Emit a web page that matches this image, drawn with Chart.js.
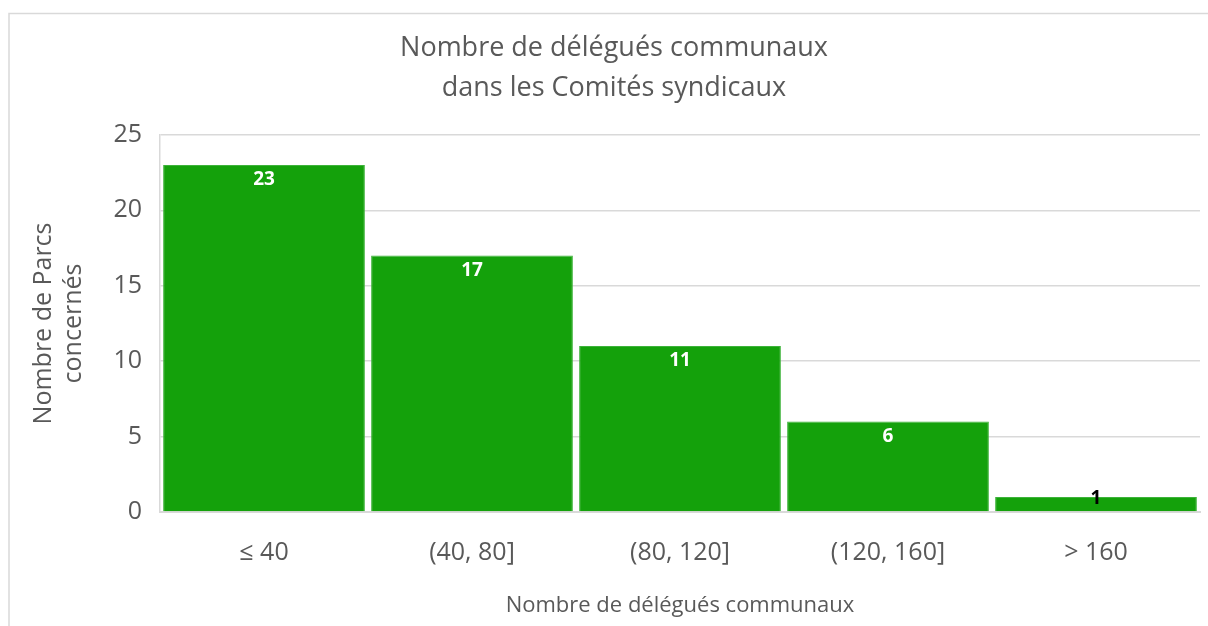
<!DOCTYPE html>
<html>
<head>
<meta charset="utf-8">
<script src="https://cdn.jsdelivr.net/npm/chart.js@4.4.1/dist/chart.umd.min.js"></script>
<style>
html,body{margin:0;padding:0;background:#fff;}
#wrap{position:relative;width:1208px;height:626px;}
</style>
</head>
<body>
<div id="wrap"><canvas id="c" width="1208" height="626"></canvas></div>
<script>
const categories = ['≤ 40', '(40, 80]', '(80, 120]', '(120, 160]', '> 160'];
const parcs = [23, 17, 11, 6, 1];
const yTicks = [0, 5, 10, 15, 20, 25];
const titleLines = ['Nombre de délégués communaux', 'dans les Comités syndicaux'];
const xTitle = 'Nombre de délégués communaux';
const yTitle = ['Nombre de Parcs', 'concernés'];

const FONT = "'Open Sans', 'Noto Sans', sans-serif";
const GREY = '#595959';

const frame = {
  id: 'frame',
  beforeDraw(chart) {
    const ctx = chart.ctx;
    ctx.save();
    ctx.fillStyle = '#fff';
    ctx.fillRect(0, 0, chart.width, chart.height);
    ctx.strokeStyle = '#d9d9d9';
    ctx.lineWidth = 1.5;
    ctx.strokeRect(9, 13.5, chart.width + 20, chart.height + 20);
    ctx.restore();
  }
};

const titleShift = {
  id: 'titleShift',
  afterLayout(chart) {
    const t = chart.titleBlock;
    if (t) { t.left += 14; t.right += 14; }
  }
};

const labels = {
  id: 'labels',
  afterDatasetsDraw(chart) {
    const ctx = chart.ctx;
    const meta = chart.getDatasetMeta(0);
    ctx.save();
    ctx.font = "bold 19px " + FONT;
    ctx.textAlign = 'center';
    ctx.textBaseline = 'middle';
    meta.data.forEach((bar, i) => {
      const v = chart.data.datasets[0].data[i];
      const h = bar.base - bar.y;
      if (h > 30) {
        ctx.fillStyle = '#ffffff';
        ctx.fillText(String(v), bar.x, bar.y + 15);
      } else {
        ctx.fillStyle = '#000000';
        ctx.fillText(String(v), bar.x, bar.y + 2);
      }
    });
    ctx.restore();
  }
};

new Chart(document.getElementById('c'), {
  type: 'bar',
  data: {
    labels: categories,
    datasets: [{
      data: parcs,
      backgroundColor: '#14A10B',
      borderColor: '#3DB33A',
      borderWidth: 1,
      categoryPercentage: 0.97,
      barPercentage: 1.0
    }]
  },
  options: {
    responsive: false,
    animation: false,
    devicePixelRatio: 1,
    layout: { padding: { left: 0, right: 8, top: 0, bottom: 0 } },
    plugins: {
      legend: { display: false },
      tooltip: { enabled: false },
      title: {
        display: true,
        text: titleLines,
        color: GREY,
        font: { family: FONT, size: 27, weight: 'normal', lineHeight: 1.48 },
        padding: { top: 28, bottom: 27 }
      }
    },
    scales: {
      x: {
        grid: { display: false, drawTicks: false },
        border: { display: true, color: '#d9d9d9', width: 2 },
        ticks: { color: GREY, font: { family: FONT, size: 25 }, padding: 26, maxRotation: 0 },
        title: { display: true, text: xTitle, color: GREY, font: { family: FONT, size: 22, lineHeight: 1.2 }, padding: { top: 0, bottom: 7 } },
        afterFit(s) { s.height = 626 - 512; }
      },
      y: {
        min: 0, max: 25,
        afterBuildTicks(s) { s.ticks = yTicks.map(v => ({ value: v })); },
        grid: { color: '#d9d9d9', lineWidth: 1.5, drawTicks: false },
        border: { display: true, color: '#d9d9d9', width: 1.5 },
        ticks: { color: GREY, font: { family: FONT, size: 25 }, padding: 18 },
        title: { display: true, text: yTitle, color: GREY, font: { family: FONT, size: 25, lineHeight: 1.2 }, padding: { top: 29, bottom: 0 } },
        afterFit(s) { s.width = 160; }
      }
    }
  },
  plugins: [frame, titleShift, labels]
});
</script>
</body>
</html>
